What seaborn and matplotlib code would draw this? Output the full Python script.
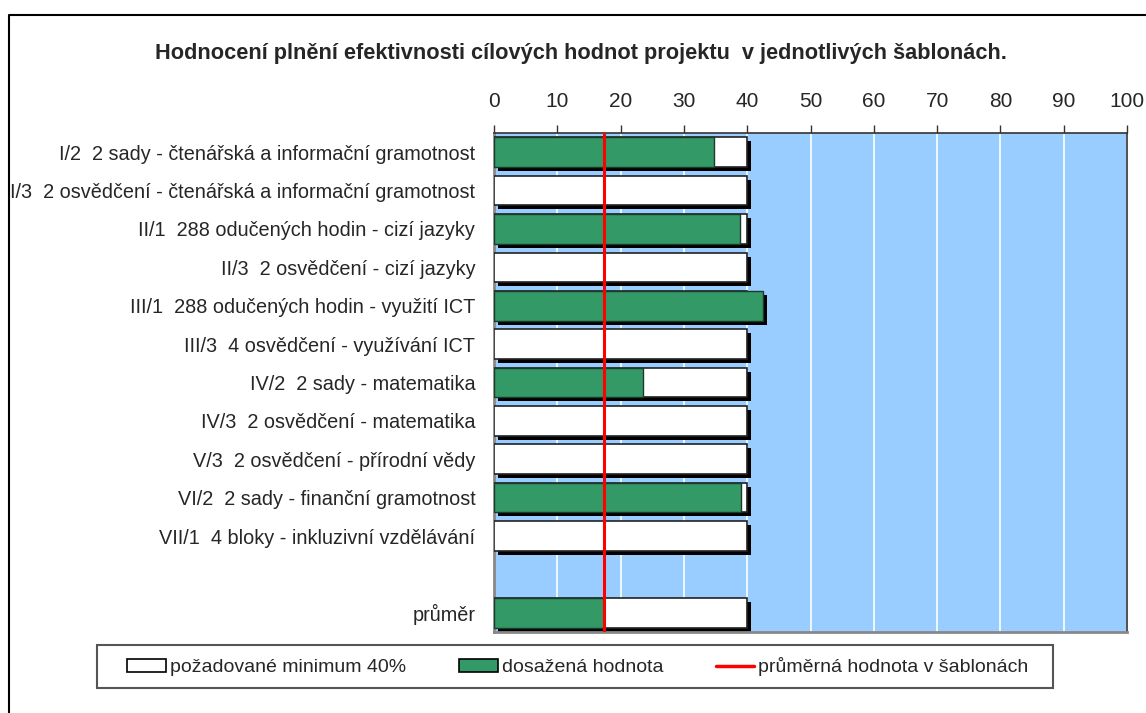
import numpy as np
import pandas as pd
import matplotlib
matplotlib.use('Agg')
import matplotlib.pyplot as plt
import matplotlib.transforms as mtransforms
from matplotlib.patches import Patch, Rectangle
from matplotlib.lines import Line2D
import seaborn as sns

# data
labels = [
    'I/2  2 sady - čtenářská a informační gramotnost',
    'I/3  2 osvědčení - čtenářská a informační gramotnost',
    'II/1  288 odučených hodin - cizí jazyky',
    'II/3  2 osvědčení - cizí jazyky',
    'III/1  288 odučených hodin - využití ICT',
    'III/3  4 osvědčení - využívání ICT',
    'IV/2  2 sady - matematika',
    'IV/3  2 osvědčení - matematika',
    'V/3  2 osvědčení - přírodní vědy',
    'VI/2  2 sady - finanční gramotnost',
    'VII/1  4 bloky - inkluzivní vzdělávání',
    '',
    'průměr',
]
required_min = [40, 40, 40, 40, 40, 40, 40, 40, 40, 40, 40, np.nan, 40]
achieved = [34.8, 0, 38.9, 0, 42.5, 0, 23.6, 0, 0, 39.0, 0, np.nan, 17.3]
average_value = 17.3

title = 'Hodnocení plnění efektivnosti cílových hodnot projektu  v jednotlivých šablonách.'
legend_labels = ['požadované minimum 40%', 'dosažená hodnota', 'průměrná hodnota v šablonách']

GREEN = '#339966'
BLUE_BG = '#99CCFF'

df = pd.DataFrame({'label': labels, 'required': required_min, 'achieved': achieved})
df['shadow'] = df[['required', 'achieved']].max(axis=1)

sns.set_style('white')
plt.rcParams['font.family'] = ['Liberation Sans', 'DejaVu Sans']

fig = plt.figure(figsize=(11.46, 7.13), dpi=100)
ax = fig.add_axes([494 / 1146, 1 - 632 / 713, (1127 - 494) / 1146, (632 - 133) / 713])
ax.set_facecolor(BLUE_BG)

bar_w = 0.77

# shadows: black bars shifted right/down
n_before = len(ax.patches)
sns.barplot(data=df, y='label', x='shadow', order=labels, orient='h', color='black',
            width=bar_w, saturation=1, linewidth=0, ax=ax, zorder=2)
offset = mtransforms.ScaledTranslation(4 / 100, -4 / 100, fig.dpi_scale_trans)
for p in ax.patches[n_before:]:
    p.set_transform(ax.transData + offset)

sns.barplot(data=df, y='label', x='required', order=labels, orient='h', color='white',
            width=bar_w, saturation=1, edgecolor='#222222', linewidth=1.2, ax=ax, zorder=3)
ach = df['achieved'].replace(0, np.nan)
sns.barplot(x=ach, y=df['label'], order=labels, orient='h', color=GREEN,
            width=bar_w, saturation=1, edgecolor='#1a3a2a', linewidth=1.0, ax=ax, zorder=4)

ax.axvline(average_value, color='#ff0000', lw=2.2, zorder=5)

ax.set_xlim(0, 100)
ax.set_ylim(len(labels) - 0.5, -0.5)
ax.set_xticks(np.arange(0, 101, 10))
ax.xaxis.tick_top()
ax.tick_params(axis='x', which='both', top=True, bottom=False, direction='out',
               length=6, width=1, color='#333333', labelsize=15, pad=10)
ax.tick_params(axis='y', left=False, labelsize=14.3, pad=10)
ax.set_xlabel('')
ax.set_ylabel('')
ax.grid(axis='x', color='white', lw=1.2, zorder=0)
ax.set_axisbelow(True)
for side in ['top', 'right']:
    ax.spines[side].set_color('#333333')
    ax.spines[side].set_linewidth(1.2)
for side in ['left', 'bottom']:
    ax.spines[side].set_color('#888888')
    ax.spines[side].set_linewidth(2)

fig.text(581 / 1146, 1 - 53 / 713, title, ha='center', va='center',
         fontsize=15.7, fontweight='bold')

# outer chart border (top and left only visible)
fig.add_artist(Line2D([9 / 1146, 9 / 1146, 1.0], [0, 1 - 15 / 713, 1 - 15 / 713],
                      transform=fig.transFigure, color='black', lw=1.5))

# legend frame
fig.add_artist(Rectangle((97 / 1146, 1 - 688 / 713), (1053 - 97) / 1146, 43 / 713,
                         transform=fig.transFigure, facecolor='white',
                         edgecolor='#555555', lw=1.5, zorder=1))

handles = [
    Patch(facecolor='white', edgecolor='black', linewidth=1.2),
    Patch(facecolor=GREEN, edgecolor='black', linewidth=1.2),
    Line2D([0], [0], color='#ff0000', lw=2.5),
]
leg = fig.legend(handles, legend_labels, ncol=3, loc='center',
                 bbox_to_anchor=(578 / 1146, 1 - 667 / 713), frameon=False,
                 fontsize=14, handlelength=2.0, handleheight=0.6, handletextpad=0.2,
                 columnspacing=2.7, borderpad=0.3, borderaxespad=0)
leg.set_zorder(2)

fig.savefig('out.png', dpi=100)
